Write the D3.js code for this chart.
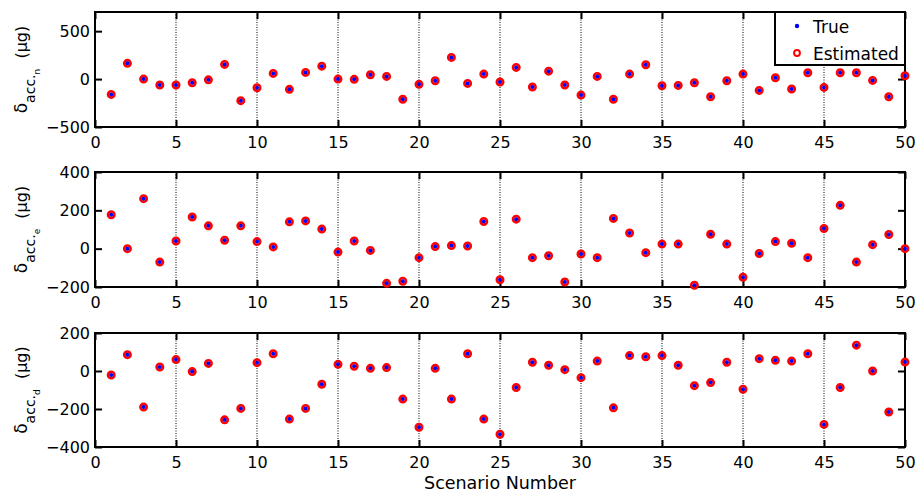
<!DOCTYPE html>
<html>
<head>
<meta charset="utf-8">
<script src="https://cdn.jsdelivr.net/npm/d3@7"></script>
<style>
  html, body { margin: 0; padding: 0; background: #fff; }
  svg { display: block; font-family: "DejaVu Sans", sans-serif; }
</style>
</head>
<body>
<svg id="chart" width="919" height="492"></svg>
<script>
// ---- data ----
const scenarios = d3.range(1, 51);
const xTicks = [0, 5, 10, 15, 20, 25, 30, 35, 40, 45, 50];

const trueN = [-160, 164, 0, -62, -62, -38, -8, 153, -225, -90,
  59, -107, 70, 135, 0, -3, 45, 28, -211, -55,
  -17, 226, -45, 52, -31, 122, -83, 83, -62, -167,
  28, -211, 52, 150, -69, -66, -38, -184, -17, 52,
  -118, 14, -104, 66, -87, 66, 66, -14, -184, 35];
const estN = [-160, 164, 0, -62, -62, -38, -8, 153, -225, -90,
  59, -107, 70, 135, 0, -3, 45, 28, -211, -55,
  -17, 226, -45, 52, -31, 122, -83, 83, -62, -167,
  28, -211, 52, 150, -69, -66, -38, -184, -17, 52,
  -118, 14, -104, 66, -87, 66, 66, -14, -184, 35];

const trueE = [177, 0, 261, -70, 40, 165, 119, 44, 119, 37,
  9, 140, 145, 102, -18, 40, -9, -181, -170, -47,
  11, 16, 14, 142, -162, 154, -47, -37, -174, -28,
  -47, 158, 82, -21, 24, 24, -191, 75, 24, -149,
  -25, 37, 28, -47, 105, 226, -70, 21, 74, 0];
const estE = [177, 0, 261, -70, 40, 165, 119, 44, 119, 37,
  9, 140, 145, 102, -18, 40, -9, -181, -170, -47,
  11, 16, 14, 142, -162, 154, -47, -37, -174, -28,
  -47, 158, 82, -21, 24, 24, -191, 75, 24, -149,
  -25, 37, 28, -47, 105, 226, -70, 21, 74, 0];

const trueD = [-21, 86, -190, 21, 60, -3, 40, -257, -197, 44,
  91, -253, -197, -70, 35, 25, 14, 18, -148, -296,
  14, -148, 91, -253, -333, -87, 46, 30, 7, -35,
  52, -194, 81, 75, 81, 30, -77, -61, 46, -96,
  65, 56, 52, 91, -281, -87, 136, 0, -216, 47];
const estD = [-21, 86, -190, 21, 60, -3, 40, -257, -197, 44,
  91, -253, -197, -70, 35, 25, 14, 18, -148, -296,
  14, -148, 91, -253, -333, -87, 46, 30, 7, -35,
  52, -194, 81, 75, 81, 30, -77, -61, 46, -96,
  65, 56, 52, 91, -281, -87, 136, 0, -216, 47];

const panels = [
  { sub: "n", domain: [-500, 700], ticks: [-500, 0, 500], trueVals: trueN, estVals: estN, top: 12, bottom: 127 },
  { sub: "e", domain: [-200, 400], ticks: [-200, 0, 200, 400], trueVals: trueE, estVals: estE, top: 172, bottom: 287 },
  { sub: "d", domain: [-400, 200], ticks: [-400, -200, 0, 200], trueVals: trueD, estVals: estD, top: 333, bottom: 447 }
];

const legendLabels = ["True", "Estimated"];
const xLabel = "Scenario Number";

// ---- drawing ----
const svg = d3.select("#chart");
const left = 95, right = 905;
const x = d3.scaleLinear().domain([0, 50]).range([left, right]);
const tickLen = 7;

panels.forEach((p, pi) => {
  const y = d3.scaleLinear().domain(p.domain).range([p.bottom, p.top]);
  const g = svg.append("g");

  // vertical dotted grid
  g.selectAll("line.grid").data(xTicks.filter(t => t > 0 && t < 50)).join("line")
    .attr("x1", d => x(d)).attr("x2", d => x(d))
    .attr("y1", p.top).attr("y2", p.bottom)
    .attr("stroke", "#000").attr("stroke-width", 1)
    .attr("stroke-dasharray", "1,1.5");

  const xb = g.append("g").attr("transform", `translate(0,${p.bottom})`)
    .call(d3.axisBottom(x).tickValues(xTicks).tickSizeInner(-tickLen).tickSizeOuter(0).tickPadding(10));
  const xt = g.append("g").attr("transform", `translate(0,${p.top})`)
    .call(d3.axisTop(x).tickValues(xTicks).tickSizeInner(-tickLen).tickSizeOuter(0).tickFormat(""));
  const yl = g.append("g").attr("transform", `translate(${left},0)`)
    .call(d3.axisLeft(y).tickValues(p.ticks).tickSizeInner(-tickLen).tickSizeOuter(0).tickPadding(5));
  const yr = g.append("g").attr("transform", `translate(${right},0)`)
    .call(d3.axisRight(y).tickValues(p.ticks).tickSizeInner(-tickLen).tickSizeOuter(0).tickFormat(""));

  [xb, xt, yl, yr].forEach(a => {
    a.select(".domain").remove();
    a.selectAll(".tick line").attr("stroke", "#000").attr("stroke-width", 2);
    a.selectAll(".tick text").attr("fill", "#000").attr("font-size", 16)
      .attr("font-family", "DejaVu Sans, sans-serif");
  });
  xb.selectAll(".tick text").attr("dy", "0.71em");

  g.append("rect").attr("x", left).attr("y", p.top)
    .attr("width", right - left).attr("height", p.bottom - p.top)
    .attr("fill", "none").attr("stroke", "#000").attr("stroke-width", 2);

  g.selectAll("circle.est").data(scenarios).join("circle")
    .attr("cx", d => x(d)).attr("cy", (d, i) => y(p.estVals[i]))
    .attr("r", 3.2).attr("fill", "none").attr("stroke", "#ff0000").attr("stroke-width", 2.6);
  g.selectAll("circle.tru").data(scenarios).join("circle")
    .attr("cx", d => x(d)).attr("cy", (d, i) => y(p.trueVals[i]))
    .attr("r", 2).attr("fill", "#0000ff");

  const cy = (p.top + p.bottom) / 2;
  const t = svg.append("text")
    .attr("transform", `translate(27,${cy}) rotate(-90)`)
    .attr("text-anchor", "middle").attr("font-size", 16).attr("fill", "#000");
  t.append("tspan").attr("font-size", 17).text("δ");
  t.append("tspan").attr("font-size", 14).attr("dy", 8).text("acc.");
  t.append("tspan").attr("font-size", 9).attr("dy", 5).text(p.sub);
  t.append("tspan").attr("dy", -13).text("\u00a0\u00a0(μg)");
});

svg.append("text").attr("x", (left + right) / 2).attr("y", 489)
  .attr("text-anchor", "middle").attr("font-size", 17.5).attr("fill", "#000")
  .text(xLabel);

const lg = svg.append("g");
lg.append("rect").attr("x", 775).attr("y", 12).attr("width", 130).attr("height", 53)
  .attr("fill", "#fff").attr("stroke", "#000").attr("stroke-width", 2);
lg.append("circle").attr("cx", 797).attr("cy", 26).attr("r", 2.2).attr("fill", "#0000ff");
lg.append("circle").attr("cx", 797).attr("cy", 53).attr("r", 2.9)
  .attr("fill", "none").attr("stroke", "#ff0000").attr("stroke-width", 2);
lg.selectAll("text").data(legendLabels).join("text")
  .attr("x", 813).attr("y", (d, i) => 32.5 + i * 27)
  .attr("font-size", 17).attr("fill", "#000").text(d => d);
</script>
</body>
</html>
